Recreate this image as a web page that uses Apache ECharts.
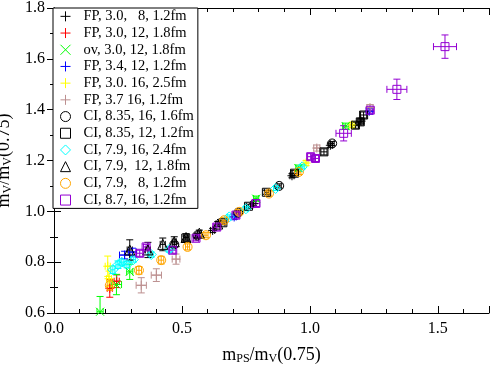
<!DOCTYPE html>
<html>
<head>
<meta charset="utf-8">
<script src="https://cdn.jsdelivr.net/npm/echarts@6/dist/echarts.min.js"></script>
<style>
  html, body { margin: 0; padding: 0; background: #fff; }
  #chart { width: 491px; height: 365px; }
</style>
</head>
<body>
<div id="chart"></div>
<script>
// rows: [x, y, dx, dy]
const fp30_8   = [[0.62,0.925,0.008,0.008],[0.78,1.03,0.008,0.008],[0.93,1.14,0.008,0.008],[1.08,1.26,0.008,0.008],[1.20,1.355,0.008,0.008]];
const fp30_12  = [[0.218,0.697,0.01,0.035],[0.245,0.725,0.01,0.025]];
const ov30_12  = [[0.18,0.605,0.012,0.06],[0.244,0.712,0.02,0.04],[0.296,0.762,0.012,0.03],[0.79,1.05,0.01,0.01],[0.955,1.17,0.01,0.012],[1.14,1.335,0.012,0.012]];
const fp34_12  = [[0.276,0.828,0.02,0.015],[0.307,0.84,0.015,0.015],[0.704,0.978,0.008,0.01],[1.232,1.394,0.012,0.012]];
const fp30_16  = [[0.21,0.784,0.01,0.04],[0.215,0.735,0.01,0.03],[0.985,1.19,0.008,0.01],[1.165,1.34,0.008,0.01]];
const fp37_16  = [[0.341,0.709,0.02,0.03],[0.40,0.749,0.02,0.025],[0.477,0.812,0.015,0.02],[1.027,1.249,0.012,0.012],[1.235,1.408,0.012,0.012]];
const ci835_16 = [[0.47,0.87,0.008,0.01],[0.56,0.905,0.008,0.008],[0.72,0.995,0.008,0.008],[0.88,1.10,0.008,0.008],[1.087,1.267,0.008,0.008]];
const ci835_12 = [[0.515,0.895,0.008,0.008],[0.66,0.955,0.008,0.008],[0.76,1.02,0.008,0.008],[0.83,1.075,0.008,0.008],[0.94,1.15,0.01,0.01],[1.055,1.234,0.012,0.012],[1.178,1.339,0.012,0.012],[1.197,1.352,0.012,0.012],[1.21,1.379,0.012,0.012]];
const ci79_16  = [[0.23,0.77,0.008,0.015],[0.25,0.79,0.008,0.015],[0.265,0.80,0.008,0.012],[0.285,0.79,0.008,0.012],[0.31,0.81,0.008,0.01],[0.38,0.83,0.008,0.01],[0.45,0.85,0.008,0.01],[0.685,0.978,0.008,0.008],[0.75,1.01,0.008,0.008],[0.866,1.09,0.008,0.008],[0.97,1.175,0.008,0.008]];
const ci79_12  = [[0.296,0.848,0.01,0.04],[0.367,0.848,0.01,0.03],[0.425,0.87,0.01,0.025],[0.47,0.88,0.008,0.02],[0.516,0.897,0.008,0.015],[0.568,0.914,0.008,0.012],[0.64,0.95,0.008,0.01]];
const ci79_8   = [[0.218,0.709,0.01,0.02],[0.332,0.768,0.01,0.015],[0.419,0.808,0.01,0.015],[0.522,0.86,0.008,0.012],[0.594,0.906,0.008,0.01],[0.665,0.965,0.008,0.01],[0.724,0.998,0.008,0.01],[0.84,1.07,0.008,0.01],[0.957,1.155,0.008,0.01]];
const ci87_16  = [[0.335,0.835,0.012,0.012],[0.36,0.86,0.01,0.01],[0.464,0.847,0.012,0.012],[0.555,0.894,0.01,0.01],[0.636,0.938,0.012,0.012],[0.711,0.985,0.012,0.012],[0.789,1.031,0.015,0.012],[1.003,1.215,0.012,0.012],[1.022,1.208,0.012,0.012],[1.132,1.307,0.03,0.03],[1.236,1.398,0.012,0.012],[1.34,1.48,0.039,0.04],[1.528,1.648,0.045,0.046]];

const setNames = [
  'FP, 3.0,   8, 1.2fm', 'FP, 3.0, 12, 1.8fm', 'ov, 3.0, 12, 1.8fm', 'FP, 3.4, 12, 1.2fm',
  'FP, 3.0. 16, 2.5fm', 'FP, 3.7 16, 1.2fm', 'CI, 8.35, 16, 1.6fm', 'CI, 8.35, 12, 1.2fm',
  'CI, 7.9, 16, 2.4fm', 'CI, 7.9,  12, 1.8fm', 'CI, 7.9,   8, 1.2fm', 'CI, 8.7, 16, 1.2fm'
];
const setData = [fp30_8, fp30_12, ov30_12, fp34_12, fp30_16, fp37_16, ci835_16, ci835_12, ci79_16, ci79_12, ci79_8, ci87_16];
const setColors = ['#000000', '#ff0000', '#00ff00', '#0000ff', '#ffff00', '#bc8f8f',
                   '#000000', '#000000', '#00ffff', '#000000', '#ffa500', '#9400d3'];

const PLUS = 'path://M0,5L10,5M5,0L5,10';
const CROSS = 'path://M0,0L10,10M0,10L10,0';
const setSymbols = [PLUS, PLUS, CROSS, PLUS, PLUS, PLUS, 'circle', 'rect', 'diamond', 'triangle', 'circle', 'rect'];
const setSizes = [9, 9, 8, 9, 9, 9, 9, 8, 10, 10, 9, 8];

const FONT = '"Liberation Serif", "DejaVu Serif", serif';

function errorBars(color) {
  return (params, api) => {
    const x = api.value(0), y = api.value(1), dx = api.value(2), dy = api.value(3);
    const c = api.coord([x, y]);
    const l = api.coord([x - dx, y]), r = api.coord([x + dx, y]);
    const t = api.coord([x, y + dy]), b = api.coord([x, y - dy]);
    const h = 3.5;
    const style = { stroke: color, lineWidth: 1, fill: null };
    const seg = (x1, y1, x2, y2) => ({ type: 'line', shape: { x1, y1, x2, y2 }, style });
    return {
      type: 'group',
      children: [
        seg(l[0], c[1], r[0], c[1]),
        seg(l[0], c[1] - h, l[0], c[1] + h),
        seg(r[0], c[1] - h, r[0], c[1] + h),
        seg(c[0], t[1], c[0], b[1]),
        seg(c[0] - h, t[1], c[0] + h, t[1]),
        seg(c[0] - h, b[1], c[0] + h, b[1])
      ]
    };
  };
}

const series = [];
setData.forEach((rows, i) => {
  series.push({
    type: 'custom',
    name: 'err ' + i,
    clip: true,
    renderItem: errorBars(setColors[i]),
    encode: { x: 0, y: 1 },
    data: rows,
    silent: true
  });
  series.push({
    type: 'scatter',
    name: setNames[i],
    symbol: setSymbols[i],
    symbolSize: setSizes[i],
    data: rows.map(r => [r[0], r[1]]),
    itemStyle: { color: 'transparent', borderColor: setColors[i], borderWidth: 1, opacity: 1 }
  });
});

const axisCommon = {
  axisLine: { show: true, lineStyle: { color: '#000', width: 1 } },
  axisTick: { show: true, inside: true, length: 7, lineStyle: { color: '#000' } },
  minorTick: { show: true, length: 4, lineStyle: { color: '#000' } },
  splitLine: { show: false },
  minorSplitLine: { show: false }
};

const chart = echarts.init(document.getElementById('chart'), null, { renderer: 'canvas' });
chart.setOption({
  animation: false,
  backgroundColor: '#fff',
  textStyle: { fontFamily: FONT },
  grid: { left: 54, right: 2, top: 8, bottom: 52, containLabel: false, outerBoundsMode: 'none' },
  legend: {
    data: setNames,
    orient: 'vertical',
    left: 53,
    top: 8,
    padding: [0, 4, 0, 7],
    itemGap: 0,
    itemWidth: 10,
    itemHeight: 10,
    borderColor: '#000',
    borderWidth: 1,
    backgroundColor: '#fff',
    selectedMode: false,
    itemStyle: { borderWidth: 1 },
    textStyle: { fontFamily: FONT, fontSize: 14.5, color: '#000', lineHeight: 16.7, padding: [0, 0, 0, 8] }
  },
  xAxis: [
    Object.assign({}, axisCommon, {
      type: 'value', min: 0, max: 1.7, interval: 0.5,
      minorTick: Object.assign({}, axisCommon.minorTick, { splitNumber: 5 }),
      axisLabel: { fontFamily: FONT, fontSize: 16, color: '#000', margin: 8, formatter: v => v.toFixed(1),
                   showMaxLabel: false },
      name: '{m|m}{s|PS}{m|/m}{s|V}{m|(0.75)}',
      nameLocation: 'middle',
      nameGap: 32,
      nameTextStyle: {
        rich: {
          m: { fontFamily: FONT, fontSize: 18, color: '#000', lineHeight: 20 },
          s: { fontFamily: FONT, fontSize: 12, color: '#000', lineHeight: 8, verticalAlign: 'bottom' }
        }
      }
    }),
    Object.assign({}, axisCommon, {
      type: 'value', min: 0, max: 1.7, interval: 0.5, position: 'top',
      minorTick: Object.assign({}, axisCommon.minorTick, { splitNumber: 5 }),
      axisLabel: { show: false }
    })
  ],
  yAxis: [
    Object.assign({}, axisCommon, {
      type: 'value', min: 0.6, max: 1.8, interval: 0.2,
      minorTick: Object.assign({}, axisCommon.minorTick, { splitNumber: 2 }),
      axisLabel: { fontFamily: FONT, fontSize: 16, color: '#000', margin: 9, formatter: v => v.toFixed(1) },
      name: '{m|m}{s|V}{m|/m}{s|V}{m|(0.75)}',
      nameLocation: 'middle',
      nameRotate: 90,
      nameGap: 34,
      nameTextStyle: {
        rich: {
          m: { fontFamily: FONT, fontSize: 18, color: '#000', lineHeight: 20 },
          s: { fontFamily: FONT, fontSize: 12, color: '#000', lineHeight: 8, verticalAlign: 'bottom' }
        }
      }
    }),
    Object.assign({}, axisCommon, {
      type: 'value', min: 0.6, max: 1.8, interval: 0.2, position: 'right',
      minorTick: Object.assign({}, axisCommon.minorTick, { splitNumber: 2 }),
      axisLabel: { show: false }
    })
  ],
  series
});
</script>
</body>
</html>
